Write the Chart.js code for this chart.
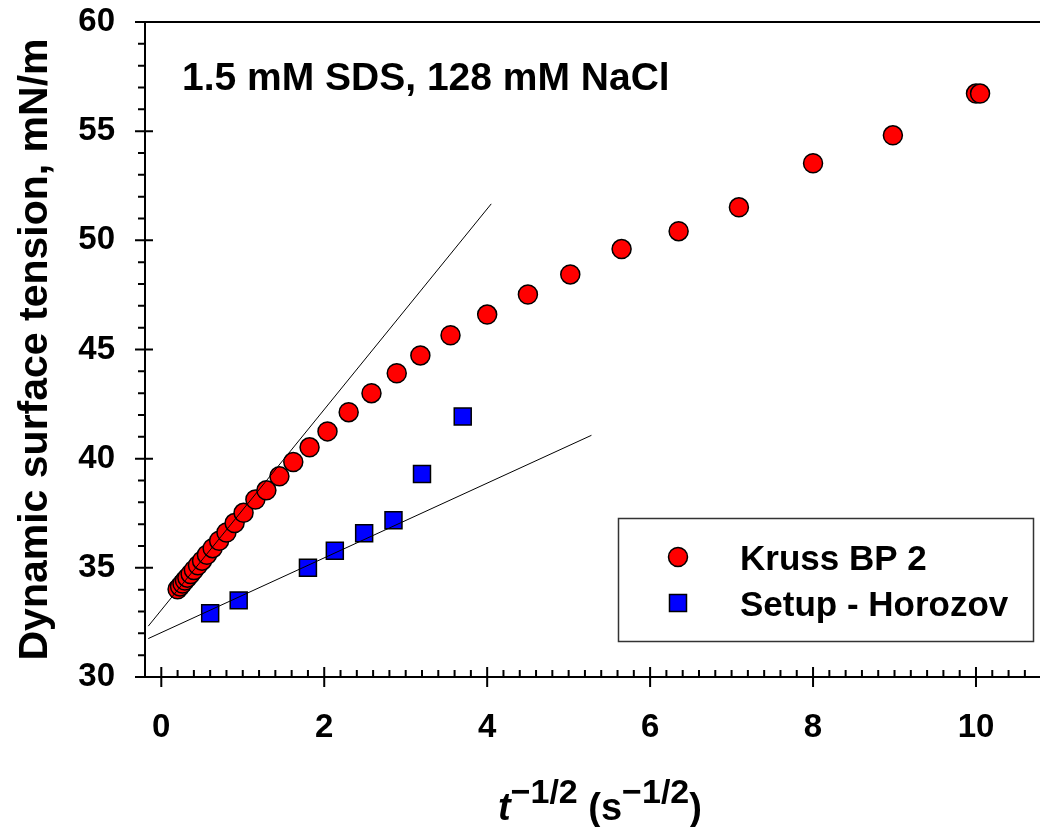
<!DOCTYPE html>
<html lang="en">
<head>
    <meta charset="UTF-8" />
    <title>Dynamic surface tension | SDS + NaCl</title>
    <script src="https://cdn.jsdelivr.net/npm/chart.js"></script>
    <style>
        html, body { margin: 0; padding: 0; background: #fff; }
        .chart-box { width: 1040px; height: 827px; }
    </style>
</head>
<body>

    <!-- Chart -->
    <div class="chart-box">
        <canvas id="tensionChart" width="1040" height="827"></canvas>
    </div>

    <script>
        // Kruss BP 2 (red circles)
        const krussX = [0.20, 0.23, 0.26, 0.29, 0.32, 0.36, 0.40, 0.45, 0.50, 0.56, 0.63, 0.71, 0.80, 0.90,
                        1.01, 1.155, 1.29, 1.45, 1.62, 1.82, 2.04, 2.30, 2.58, 2.89, 3.18, 3.55, 4.00,
                        4.50, 5.02, 5.65, 6.35, 7.09, 8.00, 8.98, 10.00, 10.05];
        const krussY = [34.02, 34.15, 34.28, 34.42, 34.55, 34.72, 34.90, 35.12, 35.33, 35.60, 35.90, 36.24, 36.62, 37.05,
                        37.52, 38.13, 38.55, 39.19, 39.85, 40.52, 41.25, 42.13, 43.00, 43.91, 44.73, 45.65, 46.60,
                        47.52, 48.44, 49.60, 50.42, 51.51, 53.53, 54.81, 56.72, 56.72];

        // Setup - Horozov (blue squares)
        const horozovX = [0.60, 0.95, 1.80, 2.13, 2.49, 2.85, 3.20, 3.70];
        const horozovY = [32.92, 33.51, 35.00, 35.78, 36.58, 37.18, 39.30, 41.93];

        // straight lines (end points)
        const krussFitX = [-0.16, 4.05];
        const krussFitY = [32.33, 51.67];
        const horozovFitX = [-0.16, 5.28];
        const horozovFitY = [31.76, 41.07];

        const xTicks = [0, 2, 4, 6, 8, 10];
        const yTicks = [30, 35, 40, 45, 50, 55, 60];

        const toPoints = (xs, ys) => xs.map((x, i) => ({ x: x, y: ys[i] }));
        const FONT = '"Liberation Sans", Arial, sans-serif';

        // no extra room for edge labels, the frame is fixed
        const noPad = s => {
            s.paddingTop = 0; s.paddingBottom = 0;
            s.paddingLeft = 0; s.paddingRight = 0;
        };

        // axes frame, tick marks, caption, x title and boxed legend
        const extras = {
            id: 'extras',
            afterDraw(chart) {
                const ctx = chart.ctx;
                const { left, right, top, bottom } = chart.chartArea;
                const xs = chart.scales.x, ys = chart.scales.y;

                ctx.save();
                ctx.strokeStyle = '#000';
                ctx.lineWidth = 2;
                ctx.beginPath();
                ctx.moveTo(left, top); ctx.lineTo(1040, top);
                ctx.moveTo(left, top); ctx.lineTo(left, bottom);
                ctx.moveTo(left, bottom); ctx.lineTo(1040, bottom);
                ctx.stroke();

                // y ticks: major cross the axis, minor outside
                ctx.beginPath();
                for (let v = 30; v <= 60; v++) {
                    const py = ys.getPixelForValue(v);
                    if (v % 5 === 0) { ctx.moveTo(left - 10, py); ctx.lineTo(left + 8, py); }
                    else { ctx.moveTo(left - 7, py); ctx.lineTo(left, py); }
                }
                // x ticks: major cross the axis, minor inside
                for (let i = -1; i <= 55; i++) {
                    const v = i * 0.2;
                    const px = xs.getPixelForValue(v);
                    if (px > 1040) break;
                    if (i % 10 === 0) { ctx.moveTo(px, bottom - 10); ctx.lineTo(px, bottom + 10); }
                    else { ctx.moveTo(px, bottom - 7); ctx.lineTo(px, bottom); }
                }
                ctx.stroke();

                // caption
                ctx.fillStyle = '#000';
                ctx.textBaseline = 'alphabetic';
                ctx.textAlign = 'left';
                ctx.font = 'bold 39px ' + FONT;
                ctx.fillText('1.5 mM SDS, 128 mM NaCl', 182, 90);

                // x axis title with superscripts
                let x = 498;
                const base = 820, supBase = 803;
                const put = (txt, font, y) => {
                    ctx.font = font;
                    ctx.fillText(txt, x, y);
                    x += ctx.measureText(txt).width;
                };
                put('t', 'italic bold 38px ' + FONT, base);
                put('\u22121/2', 'bold 34px ' + FONT, supBase);
                put(' (s', 'bold 38px ' + FONT, base);
                put('\u22121/2', 'bold 34px ' + FONT, supBase);
                put(')', 'bold 38px ' + FONT, base);

                // legend box
                ctx.fillStyle = '#fff';
                ctx.fillRect(618, 518, 415, 123);
                ctx.lineWidth = 1.5;
                ctx.strokeStyle = '#333';
                ctx.strokeRect(618.5, 518.5, 415, 123);

                const items = chart.data.datasets.filter(d => d.showInLegend);
                items.forEach((d, i) => {
                    const cy = 557 + i * 46;
                    ctx.fillStyle = d.backgroundColor;
                    ctx.strokeStyle = '#000';
                    ctx.lineWidth = 1.5;
                    ctx.beginPath();
                    if (d.pointStyle === 'rect') {
                        ctx.rect(678 - 8.5, cy - 8.5, 17, 17);
                    } else {
                        ctx.arc(678, cy, 9.5, 0, Math.PI * 2);
                    }
                    ctx.fill();
                    ctx.stroke();
                    ctx.fillStyle = '#000';
                    ctx.font = 'bold 35px ' + FONT;
                    ctx.fillText(d.label, 740, cy + 13);
                });
                ctx.restore();
            }
        };

        new Chart(document.getElementById('tensionChart'), {
            type: 'scatter',
            data: {
                datasets: [
                    {
                        type: 'line',
                        data: toPoints(krussFitX, krussFitY),
                        borderColor: '#000',
                        borderWidth: 1,
                        pointRadius: 0,
                        fill: false,
                        order: 0
                    },
                    {
                        type: 'line',
                        data: toPoints(horozovFitX, horozovFitY),
                        borderColor: '#000',
                        borderWidth: 1,
                        pointRadius: 0,
                        fill: false,
                        order: 0
                    },
                    {
                        label: 'Kruss BP 2',
                        showInLegend: true,
                        data: toPoints(krussX, krussY),
                        pointStyle: 'circle',
                        pointRadius: 9.5,
                        backgroundColor: '#ff0000',
                        borderColor: '#000',
                        borderWidth: 1.5,
                        order: 1
                    },
                    {
                        label: 'Setup - Horozov',
                        showInLegend: true,
                        data: toPoints(horozovX, horozovY),
                        pointStyle: 'rect',
                        pointRadius: 12,
                        backgroundColor: '#0000ff',
                        borderColor: '#000',
                        borderWidth: 1.5,
                        order: 1
                    }
                ]
            },
            options: {
                responsive: false,
                animation: false,
                devicePixelRatio: 1,
                layout: { padding: { top: 22, right: 0, bottom: 0, left: 0 } },
                plugins: {
                    legend: { display: false },
                    tooltip: { enabled: false }
                },
                scales: {
                    x: {
                        type: 'linear',
                        min: -0.2,
                        max: 10.62,
                        afterFit: s => { s.height = 150; noPad(s); },
                        afterBuildTicks: s => { s.ticks = xTicks.map(v => ({ value: v })); },
                        grid: { display: false, drawTicks: false },
                        border: { display: false },
                        ticks: {
                            padding: 31,
                            color: '#000',
                            maxRotation: 0,
                            font: { family: FONT, size: 33, weight: 'bold' }
                        }
                    },
                    y: {
                        type: 'linear',
                        min: 30,
                        max: 60,
                        afterFit: s => { s.width = 145; noPad(s); },
                        afterBuildTicks: s => { s.ticks = yTicks.map(v => ({ value: v })); },
                        grid: { display: false, drawTicks: false },
                        border: { display: false },
                        ticks: {
                            padding: 30,
                            color: '#000',
                            font: { family: FONT, size: 33, weight: 'bold' }
                        },
                        title: {
                            display: true,
                            text: 'Dynamic surface tension, mN/m',
                            color: '#000',
                            padding: { top: 11, bottom: 0 },
                            font: { family: FONT, size: 41, weight: 'bold' }
                        }
                    }
                }
            },
            plugins: [extras]
        });
    </script>

</body>
</html>
